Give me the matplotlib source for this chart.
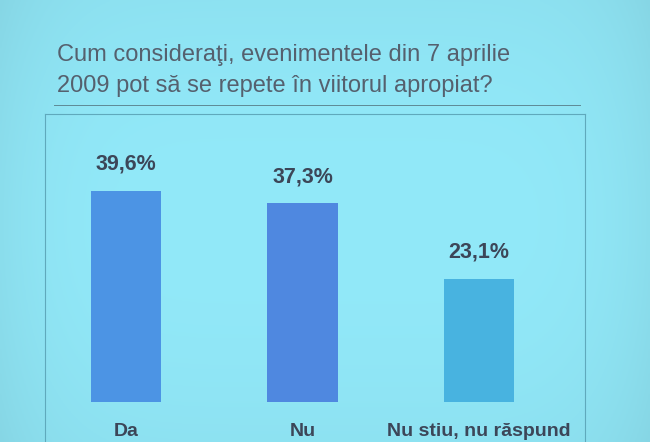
import numpy as np
import matplotlib
matplotlib.use("Agg")
import matplotlib.pyplot as plt
from matplotlib.lines import Line2D

# ---- data ----
categories = ["Da", "Nu", "Nu stiu, nu răspund"]
values = [39.6, 37.3, 23.1]
value_labels = ["39,6%", "37,3%", "23,1%"]
title_lines = ["Cum consideraţi, evenimentele din 7 aprilie",
               "2009 pot să se repete în viitorul apropiat?"]

# ---- style ----
FONT = ["Liberation Sans Narrow", "Liberation Sans", "DejaVu Sans"]
BG = "#92E9F9"
BAR_COLORS = ["#4C94E4", "#4F88E0", "#48B3E0"]
TITLE_COLOR = "#55606E"
LABEL_COLOR = "#3C4658"
FRAME_COLOR = "#5FA9BC"

W, H = 650, 442
fig = plt.figure(figsize=(W / 100, H / 100), dpi=100)

# background with a faint vignette toward the edges
bg_ax = fig.add_axes([0, 0, 1, 1], zorder=0)
bg_ax.axis("off")
xx = np.linspace(-1, 1, 300)
yy = np.linspace(-1, 1, 200)
gx, gy = np.meshgrid(xx, yy)
shade = 1 - 0.05 * (np.abs(gx) ** 6) - 0.03 * (gy ** 2)
base = np.array(matplotlib.colors.to_rgb(BG))
img = np.clip(shade[..., None] * base[None, None, :], 0, 1)
bg_ax.imshow(img, extent=(0, 1, 0, 1), aspect="auto", origin="lower")
bg_ax.set_xlim(0, 1)
bg_ax.set_ylim(0, 1)

# title
fig.text(57 / W, 1 - 55 / H, title_lines[0], ha="left", va="center",
         fontsize=17, color=TITLE_COLOR, family=FONT)
fig.text(57 / W, 1 - 86 / H, title_lines[1], ha="left", va="center",
         fontsize=17, color=TITLE_COLOR, family=FONT)
fig.add_artist(Line2D([54 / W, 580 / W], [1 - 105 / H, 1 - 105 / H],
                      transform=fig.transFigure, color="#5E8A96", lw=0.7))

# chart frame area
left, right, top, bottom = 45, 585, 114, 446
ax = fig.add_axes([left / W, 1 - bottom / H, (right - left) / W, (bottom - top) / H],
                  zorder=1)
ax.patch.set_alpha(0)
x = np.arange(len(categories))
ax.bar(x, values, width=0.40, color=BAR_COLORS, zorder=2)

ax.set_xlim(-0.46, 2.6)
ax.set_ylim(-8.2, 54)
for i, v in enumerate(values):
    ax.text(x[i], v + 3.0, value_labels[i], ha="center", va="bottom",
            fontsize=15.5, fontweight="bold", color=LABEL_COLOR, family=FONT)
    ax.text(x[i], -5.4, categories[i], ha="center", va="center",
            fontsize=14, fontweight="bold", color=LABEL_COLOR, family=FONT)

ax.set_xticks([])
ax.set_yticks([])
for side in ["left", "right", "top"]:
    ax.spines[side].set_color(FRAME_COLOR)
    ax.spines[side].set_linewidth(0.8)
ax.spines["bottom"].set_visible(False)

fig.savefig("out.png", dpi=100)
